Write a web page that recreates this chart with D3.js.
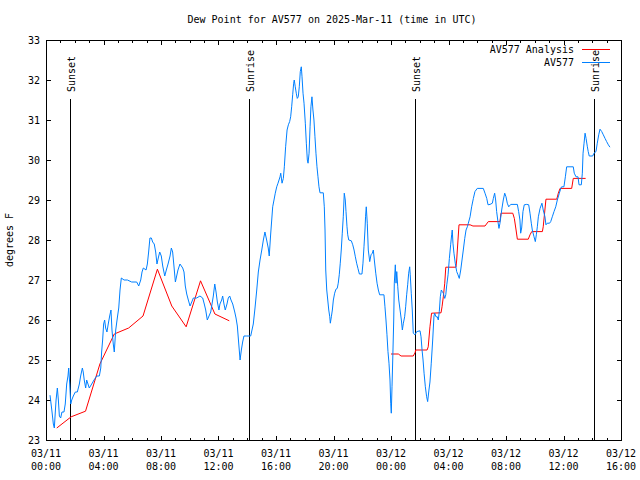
<!DOCTYPE html>
<html><head><meta charset="utf-8">
<script src="https://cdn.jsdelivr.net/npm/d3@7"></script>
<style>
body{margin:0;background:#fff}
svg text{font-family:"DejaVu Sans Mono","Liberation Mono",monospace;font-size:10px;fill:#000}
</style></head><body>
<svg id="c" width="640" height="480"></svg>
<script>
// ---- data (hours since 2025-03-11 00:00 UTC, dew point °F) ----
const titleText = "Dew Point for AV577 on 2025-Mar-11 (time in UTC)";
const yLabel = "degrees F";
const seriesNames = ["AV577 Analysis", "AV577"];
const seriesColors = ["#ff0000", "#0080ff"];
const yTicks = [23,24,25,26,27,28,29,30,31,32,33];
const sunLabels = ["Sunset", "Sunrise", "Sunset", "Sunrise"];
const sunHours = [1.69, 14.12, 25.67, 38.12];

const analysisPart1 = [[0.75,23.3],[1.75,23.58],[2.75,23.72],[3.75,24.9],[4.75,25.65],[5.75,25.8],[6.75,26.1],[7.75,27.27],[8.75,26.35],[9.75,25.83],[10.75,26.98],[11.75,26.15],[12.75,25.98]];
const analysisPart2 = [[24.0,25.15],[24.51,25.15],[24.70,25.1],[25.55,25.1],[25.67,25.18],[25.72,25.25],[26.51,25.25],[26.59,25.33],[26.71,25.83],[26.82,26.17],[27.48,26.18],[27.55,26.33],[27.64,26.58],[27.74,26.92],[27.81,27.32],[28.52,27.32],[28.57,27.5],[28.66,28.0],[28.73,28.38],[29.50,28.38],[29.70,28.35],[30.54,28.35],[30.77,28.46],[31.58,28.46],[31.65,28.67],[32.47,28.67],[32.58,28.54],[32.70,28.25],[32.79,28.02],[33.55,28.02],[33.67,28.13],[33.79,28.21],[34.53,28.21],[34.59,28.33],[34.78,29.02],[35.53,29.02],[35.64,29.17],[35.76,29.29],[36.57,29.29],[36.68,29.54],[37.54,29.54]];

const av577 = [[0.28,24.12],[0.42,23.7],[0.51,23.4],[0.58,23.3],[0.63,23.6],[0.70,24.0],[0.79,24.3],[0.86,24.0],[0.93,23.6],[1.02,23.55],[1.11,23.7],[1.25,23.7],[1.34,23.9],[1.44,24.4],[1.53,24.6],[1.58,24.8],[1.65,24.4],[1.72,23.9],[1.79,24.0],[1.90,24.1],[2.04,24.2],[2.18,24.2],[2.32,24.4],[2.41,24.6],[2.53,24.8],[2.59,24.7],[2.66,24.5],[2.76,24.3],[2.83,24.5],[2.92,24.4],[3.01,24.3],[3.18,24.4],[3.34,24.5],[3.53,24.6],[3.71,24.6],[3.81,24.8],[3.87,25.2],[3.94,25.5],[4.01,25.9],[4.08,26.0],[4.15,25.8],[4.24,25.7],[4.33,25.9],[4.43,26.1],[4.52,26.25],[4.59,25.75],[4.68,25.4],[4.75,25.2],[4.85,25.75],[4.96,26.05],[5.06,26.3],[5.15,26.75],[5.24,27.05],[5.43,27.0],[5.66,27.0],[5.96,26.95],[6.31,26.95],[6.45,26.85],[6.59,27.0],[6.68,27.2],[6.77,27.3],[6.96,27.25],[7.05,27.4],[7.14,27.7],[7.23,28.05],[7.33,28.05],[7.42,27.95],[7.53,27.9],[7.63,27.7],[7.72,27.4],[7.81,27.55],[7.91,27.7],[8.02,27.6],[8.12,27.35],[8.26,27.1],[8.37,27.25],[8.49,27.4],[8.63,27.6],[8.72,27.8],[8.81,27.7],[8.90,27.35],[9.00,26.95],[9.09,27.1],[9.18,27.25],[9.32,27.4],[9.51,27.3],[9.60,27.2],[9.69,26.85],[9.79,26.65],[9.90,26.5],[10.02,26.35],[10.14,26.45],[10.25,26.55],[10.48,26.55],[10.71,26.6],[10.90,26.55],[11.01,26.4],[11.11,26.25],[11.22,26.0],[11.34,26.1],[11.46,26.2],[11.55,26.4],[11.64,26.6],[11.74,26.9],[11.83,26.7],[11.92,26.45],[12.03,26.25],[12.10,26.4],[12.22,26.5],[12.29,26.6],[12.38,26.4],[12.47,26.25],[12.59,26.4],[12.68,26.55],[12.78,26.6],[12.87,26.5],[12.99,26.4],[13.13,26.2],[13.22,26.05],[13.31,25.85],[13.41,25.4],[13.50,25.0],[13.59,25.25],[13.68,25.45],[13.77,25.6],[13.96,25.6],[14.24,25.6],[14.42,25.9],[14.54,26.3],[14.66,26.75],[14.77,27.2],[14.89,27.5],[15.01,27.75],[15.12,28.0],[15.23,28.2],[15.35,28.0],[15.46,27.8],[15.53,27.6],[15.63,28.15],[15.77,28.83],[15.86,29.0],[15.95,29.17],[16.05,29.33],[16.14,29.42],[16.21,29.5],[16.28,29.58],[16.33,29.67],[16.42,29.42],[16.51,29.54],[16.58,29.83],[16.67,30.33],[16.77,30.75],[16.86,30.88],[16.95,30.96],[17.02,31.08],[17.09,31.33],[17.16,31.63],[17.23,31.92],[17.27,32.0],[17.34,31.83],[17.41,31.67],[17.48,31.54],[17.55,31.58],[17.62,31.83],[17.69,32.21],[17.76,32.33],[17.81,32.08],[17.88,31.67],[17.95,31.42],[18.04,30.92],[18.11,30.42],[18.18,30.0],[18.23,29.92],[18.30,30.17],[18.37,30.83],[18.43,31.33],[18.50,31.58],[18.57,31.25],[18.64,31.0],[18.71,30.58],[18.78,30.17],[18.85,29.83],[18.92,29.58],[18.99,29.33],[19.06,29.18],[19.29,29.18],[19.36,28.83],[19.41,28.25],[19.46,27.25],[19.53,26.75],[19.60,26.5],[19.67,26.25],[19.74,26.08],[19.78,25.92],[19.85,26.08],[19.92,26.25],[19.99,26.5],[20.08,26.67],[20.17,26.77],[20.26,26.79],[20.33,26.92],[20.40,27.13],[20.47,27.42],[20.54,27.75],[20.61,28.17],[20.68,28.58],[20.75,29.17],[20.82,29.0],[20.87,28.71],[20.94,28.33],[20.99,28.13],[21.06,28.0],[21.24,27.98],[21.34,27.88],[21.43,27.75],[21.52,27.58],[21.61,27.42],[21.70,27.29],[21.80,27.15],[21.98,27.15],[22.05,27.42],[22.12,27.83],[22.19,28.25],[22.23,28.58],[22.28,28.83],[22.35,28.42],[22.42,27.75],[22.52,27.46],[22.61,27.63],[22.70,27.67],[22.77,27.75],[22.84,27.5],[22.94,27.17],[23.03,26.92],[23.12,26.75],[23.21,26.63],[23.51,26.63],[23.58,26.33],[23.65,26.0],[23.72,25.63],[23.79,25.21],[23.86,24.92],[23.93,24.5],[23.98,23.92],[24.02,23.67],[24.07,24.33],[24.12,25.0],[24.19,26.0],[24.23,26.92],[24.30,27.38],[24.35,26.92],[24.40,27.21],[24.47,26.83],[24.54,26.5],[24.63,26.25],[24.72,26.0],[24.79,25.75],[24.86,25.92],[24.95,26.08],[25.02,26.33],[25.09,26.63],[25.16,26.88],[25.23,27.17],[25.30,27.33],[25.34,27.13],[25.41,26.67],[25.48,26.25],[25.55,25.67],[25.67,25.63],[25.79,25.71],[26.02,25.73],[26.09,25.58],[26.16,25.25],[26.23,25.0],[26.30,24.67],[26.39,24.33],[26.48,24.08],[26.55,23.96],[26.64,24.25],[26.71,24.45],[26.80,24.92],[26.90,25.5],[26.99,26.1],[27.04,26.17],[27.13,26.08],[27.22,26.08],[27.29,26.0],[27.36,26.21],[27.43,26.58],[27.50,26.75],[27.57,26.71],[27.64,26.67],[27.74,26.54],[27.81,26.63],[27.88,26.88],[27.97,27.13],[28.06,27.54],[28.15,27.88],[28.22,28.13],[28.26,28.25],[28.31,27.92],[28.38,27.67],[28.47,27.42],[28.57,27.21],[28.66,27.13],[28.75,27.04],[28.85,27.25],[28.94,27.5],[29.03,27.75],[29.13,28.04],[29.22,28.25],[29.31,28.33],[29.38,28.42],[29.50,28.58],[29.61,28.83],[29.73,29.04],[29.84,29.21],[30.00,29.29],[30.42,29.29],[30.54,29.17],[30.66,29.04],[30.75,28.88],[30.89,28.89],[31.05,28.92],[31.12,29.04],[31.21,29.17],[31.28,29.0],[31.35,28.71],[31.44,28.46],[31.51,28.29],[31.58,28.42],[31.70,28.75],[31.81,29.0],[31.91,29.17],[32.00,29.08],[32.09,28.92],[32.19,28.83],[32.33,28.89],[32.79,28.89],[32.88,28.71],[32.97,28.5],[33.02,28.17],[33.09,28.3],[33.18,28.71],[33.27,28.88],[33.44,28.89],[33.58,28.88],[33.67,28.67],[33.76,28.42],[33.83,28.25],[33.95,28.08],[34.04,27.96],[34.11,28.13],[34.18,28.33],[34.25,28.58],[34.37,28.79],[34.50,28.92],[34.59,28.75],[34.71,28.58],[34.78,28.38],[34.87,28.42],[35.03,28.42],[35.11,28.46],[35.22,28.58],[35.34,28.71],[35.46,28.83],[35.57,29.0],[35.71,29.17],[35.81,29.29],[35.87,29.33],[36.03,29.33],[36.13,29.58],[36.22,29.83],[36.68,29.83],[36.75,29.67],[36.87,29.58],[37.01,29.58],[37.08,29.38],[37.24,29.38],[37.31,29.67],[37.36,30.17],[37.43,30.42],[37.50,30.67],[37.57,30.54],[37.66,30.33],[37.72,30.21],[37.79,30.1],[38.03,30.1],[38.12,30.17],[38.26,30.21],[38.35,30.42],[38.45,30.63],[38.54,30.77],[38.66,30.71],[38.77,30.63],[38.89,30.54],[39.00,30.46],[39.12,30.38],[39.23,30.32]];

// ---- layout ----
const L = 46, R = 621, T = 40, B = 440;
const t0 = Date.UTC(2025, 2, 11, 0, 0);
const toDate = h => new Date(t0 + h * 3600e3);

const svg = d3.select("#c");
const x = d3.scaleUtc().domain([toDate(0), toDate(40)]).range([L, R]);
const y = d3.scaleLinear().domain([23, 33]).range([B, T]);

const px = v => Math.round(v) + 0.5;

// frame
svg.append("rect").attr("x", L + 0.5).attr("y", T + 0.5).attr("width", R - L).attr("height", B - T)
  .attr("fill", "none").attr("stroke", "#000").attr("stroke-width", 1).attr("shape-rendering", "crispEdges");

// x ticks
const majorX = x.ticks(d3.utcHour.every(4));
const minorX = x.ticks(d3.utcHour.every(1));
const gt = svg.append("g").attr("stroke", "#000").attr("stroke-width", 1).attr("shape-rendering", "crispEdges");
minorX.forEach(d => {
  const isMajor = d.getUTCHours() % 4 === 0;
  const len = isMajor ? 4 : 2;
  const xx = px(x(d));
  gt.append("line").attr("x1", xx).attr("x2", xx).attr("y1", B).attr("y2", B - len);
  gt.append("line").attr("x1", xx).attr("x2", xx).attr("y1", T + 1).attr("y2", T + 1 + len);
});
const fmtDay = d3.utcFormat("%m/%d"), fmtTime = d3.utcFormat("%H:%M");
majorX.forEach(d => {
  const t = svg.append("text").attr("x", x(d)).attr("text-anchor", "middle");
  t.append("tspan").attr("x", x(d)).attr("y", 457).text(fmtDay(d));
  t.append("tspan").attr("x", x(d)).attr("y", 470).text(fmtTime(d));
});

// y ticks
yTicks.forEach(v => {
  const yy = px(y(v));
  gt.append("line").attr("x1", L).attr("x2", L + 5).attr("y1", yy).attr("y2", yy);
  gt.append("line").attr("x1", R + 1).attr("x2", R - 4).attr("y1", yy).attr("y2", yy);
  svg.append("text").attr("x", 40).attr("y", y(v) + 3.5).attr("text-anchor", "end").text(v);
});

// y label
svg.append("text").attr("transform", `translate(13,${(T + B) / 2}) rotate(-90)`)
  .attr("text-anchor", "middle").text(yLabel);

// title
svg.append("text").attr("x", 332).attr("y", 23).attr("text-anchor", "middle").text(titleText);

// sunrise/sunset
sunHours.forEach((h, i) => {
  const xx = px(x(toDate(h)));
  svg.append("line").attr("x1", xx).attr("x2", xx).attr("y1", 99).attr("y2", B)
    .attr("stroke", "#000").attr("shape-rendering", "crispEdges");
  svg.append("text").attr("transform", `translate(${xx + 4},92) rotate(-90)`)
    .attr("text-anchor", "start").text(sunLabels[i]);
});

// lines
const line = d3.line().x(d => x(toDate(d[0]))).y(d => y(d[1]));
[analysisPart1, analysisPart2].forEach(p => {
  svg.append("path").attr("d", line(p)).attr("fill", "none").attr("stroke", seriesColors[0]).attr("stroke-width", 1);
});
svg.append("path").attr("d", line(av577)).attr("fill", "none").attr("stroke", seriesColors[1]).attr("stroke-width", 1);

// legend
seriesNames.forEach((n, i) => {
  const yy = 49.5 + i * 13;
  svg.append("text").attr("x", 574).attr("y", yy + 3.5).attr("text-anchor", "end").text(n);
  svg.append("line").attr("x1", 582).attr("x2", 610).attr("y1", yy).attr("y2", yy)
    .attr("stroke", seriesColors[i]).attr("stroke-width", 1).attr("shape-rendering", "crispEdges");
});
</script></body></html>
